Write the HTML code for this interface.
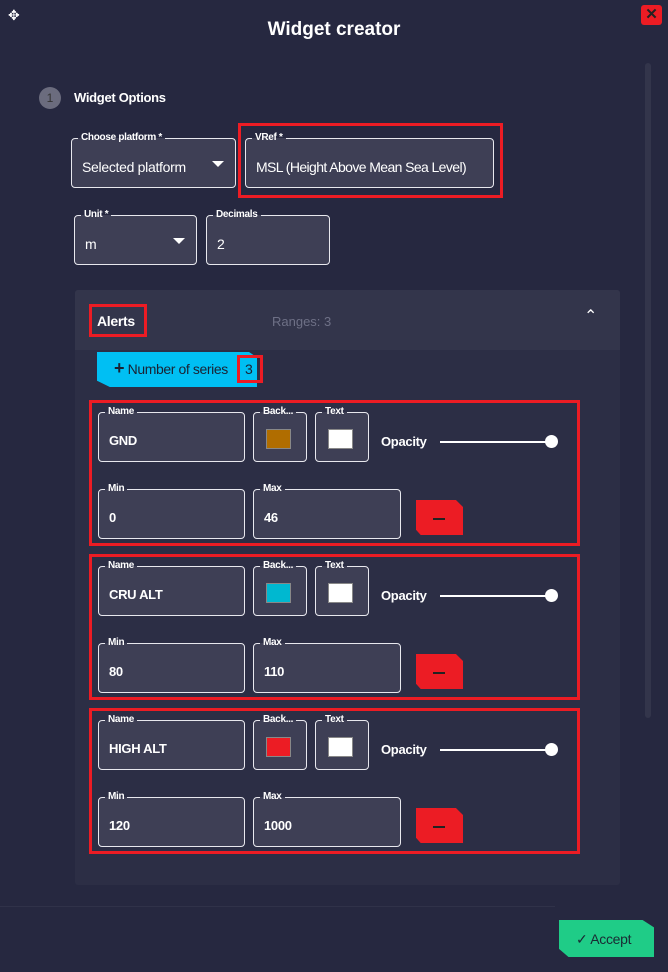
<!DOCTYPE html>
<html><head><meta charset="utf-8"><style>
*{box-sizing:border-box;margin:0;padding:0}
body{width:668px;height:972px;background:#262840;font-family:"Liberation Sans",sans-serif;color:#fff;position:relative;overflow:hidden}
.a{position:absolute}
.f{position:absolute;border:1px solid #e8e8ee;border-radius:4px;background:#3e3f55}
.f .l{position:absolute;top:-7px;left:6px;padding:0 3px;font-size:10px;font-weight:bold;line-height:12px;letter-spacing:-0.3px;background:linear-gradient(#262840 50%,#3e3f55 50%)}
.f .v{position:absolute;left:10px;top:20px;font-size:14px;letter-spacing:-0.3px}
.rb{position:absolute;border:3px solid #ec1c24}
.tri{position:absolute;width:0;height:0;border-left:6px solid transparent;border-right:6px solid transparent;border-top:6px solid #fff}
.sw{position:absolute;left:12px;top:16px;width:25px;height:20px;border:1px solid #888}
</style></head><body>
<div class="a" style="left:8px;top:7px;font-size:14px">✥</div>
<div class="a" style="left:641px;top:5px;width:21px;height:20px;background:#ec1c24;border-radius:3px;color:#222;font-size:15px;text-align:center;line-height:20px;font-weight:bold">✕</div>
<div class="a" style="left:0;width:668px;top:19px;text-align:center;font-size:19px;font-weight:bold">Widget creator</div>
<div class="a" style="left:645px;top:63px;width:6px;height:655px;background:#33354b;border-radius:3px"></div>
<div class="a" style="left:39px;top:87px;width:22px;height:22px;border-radius:50%;background:#6b6c7e;color:#333;font-size:12px;text-align:center;line-height:22px">1</div>
<div class="a" style="left:74px;top:90px;font-size:13px;font-weight:bold;letter-spacing:-0.3px">Widget Options</div>

<div class="f" style="left:71px;top:138px;width:165px;height:50px"><span class="l">Choose platform *</span><span class="v">Selected platform</span><div class="tri" style="left:140px;top:22px"></div></div>
<div class="f" style="left:245px;top:138px;width:249px;height:50px"><span class="l">VRef *</span><span class="v" style="letter-spacing:-0.6px">MSL (Height Above Mean Sea Level)</span></div>
<div class="rb" style="left:238px;top:123px;width:265px;height:75px"></div>
<div class="f" style="left:74px;top:215px;width:123px;height:50px"><span class="l">Unit *</span><span class="v">m</span><div class="tri" style="left:98px;top:22px"></div></div>
<div class="f" style="left:206px;top:215px;width:124px;height:50px"><span class="l">Decimals</span><span class="v">2</span></div>

<div class="a" style="left:75px;top:290px;width:545px;height:595px;background:#2c2e45;border-radius:3px"></div>
<div class="a" style="left:75px;top:290px;width:545px;height:60px;background:#33354b;border-radius:3px 3px 0 0"></div>
<div class="a" style="left:97px;top:313px;font-size:14px;font-weight:bold;letter-spacing:-0.3px">Alerts</div>
<div class="rb" style="left:89px;top:304px;width:58px;height:33px"></div>
<div class="a" style="left:272px;top:314px;font-size:13px;color:#6e7086">Ranges: 3</div>
<div class="a" style="left:584px;top:306px;font-size:16px">⌃</div>
<div class="a" style="left:97px;top:352px;width:160px;height:35px;background:#00bff3;clip-path:polygon(0 0,95% 0,100% 15%,100% 100%,8% 100%,0 82%)"></div>
<div class="a" style="left:114px;top:361px;font-size:14px;color:#1a2233;letter-spacing:-0.4px"><b style="font-size:18px;line-height:14px">+</b> Number of series</div>
<div class="a" style="left:245px;top:361px;font-size:14px;color:#1a2233">3</div>
<div class="rb" style="left:237px;top:355px;width:26px;height:28px"></div>

<div id="s"></div>
<script>
var d=[["GND","#b06d00",0,"0","46"],["CRU ALT","#00b8d0",154,"80","110"],["HIGH ALT","#ec1c24",308,"120","1000"]],h="";
var g='background:linear-gradient(#2c2e45 50%,#3e3f55 50%)';
d.forEach(function(r){var o=r[2];
h+='<div class="rb" style="left:89px;top:'+(400+o)+'px;width:491px;height:146px"></div>'+
'<div class="f" style="left:98px;top:'+(412+o)+'px;width:147px;height:50px"><span class="l" style="'+g+'">Name</span><span class="v" style="font-size:13px;font-weight:bold">'+r[0]+'</span></div>'+
'<div class="f" style="left:253px;top:'+(412+o)+'px;width:54px;height:50px"><span class="l" style="'+g+'">Back...</span><div class="sw" style="background:'+r[1]+'"></div></div>'+
'<div class="f" style="left:315px;top:'+(412+o)+'px;width:54px;height:50px"><span class="l" style="'+g+'">Text</span><div class="sw" style="background:#fff"></div></div>'+
'<div class="a" style="left:381px;top:'+(434+o)+'px;font-size:13px;font-weight:bold;letter-spacing:-0.3px">Opacity</div>'+
'<div class="a" style="left:440px;top:'+(441+o)+'px;width:112px;height:2px;background:#fff"></div>'+
'<div class="a" style="left:545px;top:'+(435+o)+'px;width:13px;height:13px;border-radius:50%;background:#fff"></div>'+
'<div class="f" style="left:98px;top:'+(489+o)+'px;width:147px;height:50px"><span class="l" style="'+g+'">Min</span><span class="v" style="font-size:13px;font-weight:bold">'+r[3]+'</span></div>'+
'<div class="f" style="left:253px;top:'+(489+o)+'px;width:148px;height:50px"><span class="l" style="'+g+'">Max</span><span class="v" style="font-size:13px;font-weight:bold">'+r[4]+'</span></div>'+
'<div class="a" style="left:416px;top:'+(500+o)+'px;width:47px;height:35px;background:#ec1c24;clip-path:polygon(0 0,85% 0,100% 20%,100% 100%,10% 100%,0 85%)"></div>'+
'<div class="a" style="left:433px;top:'+(518+o)+'px;width:12px;height:2px;background:#222"></div>';});
document.getElementById("s").innerHTML=h;
</script>
<div class="a" style="left:0;top:906px;width:555px;height:1px;background:#303249"></div>
<div class="a" style="left:559px;top:920px;width:95px;height:37px;background:#1fcc87;clip-path:polygon(0 0,88% 0,100% 20%,100% 100%,10% 100%,0 78%)"></div>
<div class="a" style="left:576px;top:931px;font-size:14px;color:#1a2a33;letter-spacing:-0.3px">✓ Accept</div>
</body></html>
